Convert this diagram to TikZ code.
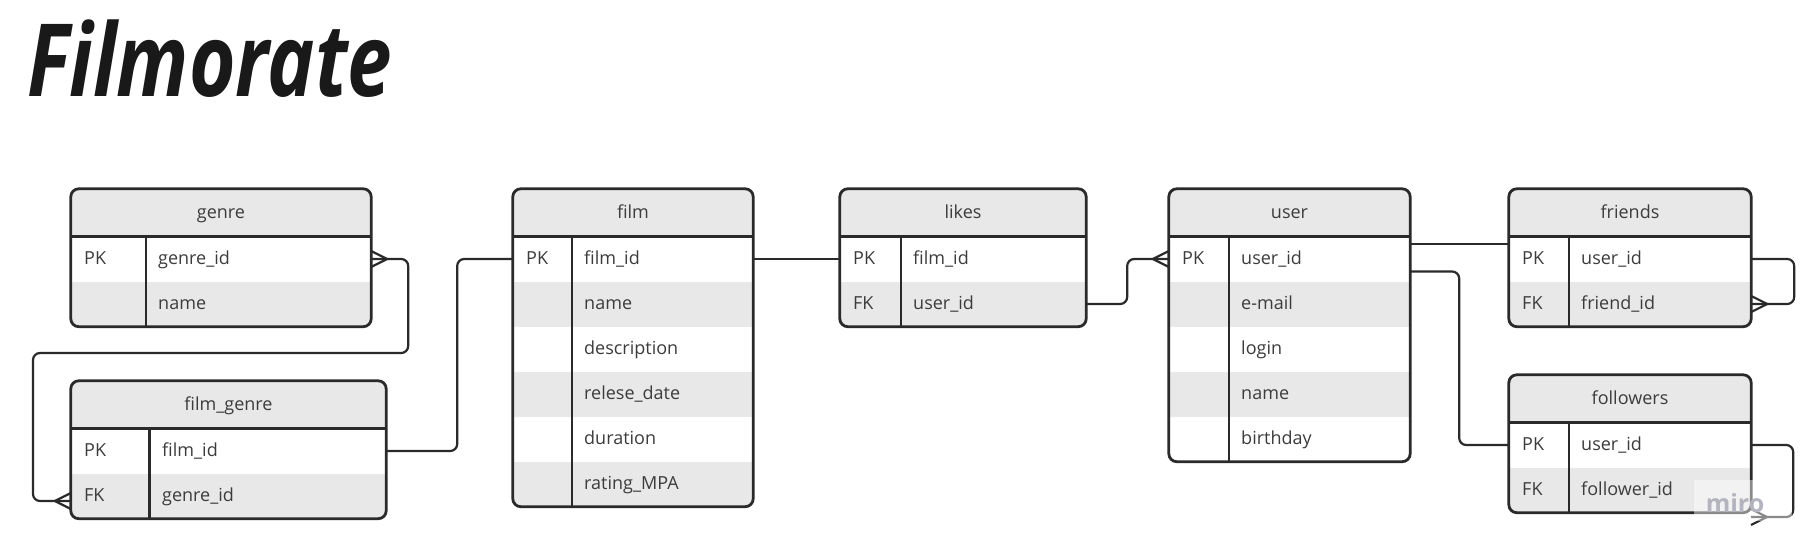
\documentclass[tikz,border=0pt]{standalone}
\usepackage{fontspec}
\setmainfont{Open Sans}
\definecolor{gris}{HTML}{E8E8E8}
\definecolor{tinta}{HTML}{2A2A2A}
\definecolor{letra}{HTML}{3C3C3C}
\definecolor{marca}{HTML}{B4B4C0}
\tikzset{
  tabla/.style={draw=tinta, line width=2.8pt, rounded corners=8pt},
  raya/.style={draw=tinta, line width=2.8pt},
  enlace/.style={draw=tinta, line width=2.2pt, rounded corners=7pt},
  pata/.style={draw=tinta, line width=2.2pt},
  txt/.style={inner sep=0pt, text=letra, text height=14pt, text depth=3pt,
    font=\fontsize{18}{22}\selectfont},
  cabecera/.style={txt, fill=gris, minimum height=47.5pt},
  fila/.style={fill=#1, inner sep=0pt, minimum height=45pt},
  campo/.style={txt, anchor=west}
}
\begin{document}
\begin{tikzpicture}[x=1pt, y=-1pt]
    \useasboundingbox (0,0) rectangle (1806,553);

    % Titulo
    \node[anchor=base west, inner sep=0pt, text=black!90,
      font=\fontsize{101}{110}\selectfont\bfseries\itshape] (titulo) at (27,97)
      {\scalebox{0.79}[1]{Filmorate}};

    % genre
    \begin{scope}
      \clip[rounded corners=8pt] (71,189) rectangle (371,326.5);
      \node[cabecera, minimum width=300pt] (genre) at (221,212.75) {genre};
      \foreach \k/\f/\c [count=\i] in {PK/genre\_id/white, /name/gris} {
        \node[fila=\c, minimum width=300pt] (genre-\i) at (221,214+45*\i) {};
        \node[campo] at (84,214+45*\i) {\k};
        \node[campo] at (158,214+45*\i) {\f};
      }
    \end{scope}
    \draw[tabla] (genre.north west) rectangle (genre-2.south east);
    \draw[raya] (genre.south west) -- (genre.south east);
    \draw[raya] (146,236.5) -- (146,326.5);

    % film_genre
    \begin{scope}
      \clip[rounded corners=8pt] (71,381) rectangle (386,518.5);
      \node[cabecera, minimum width=315pt] (filmgenre) at (228.5,404.75) {film\_genre};
      \foreach \k/\f/\c [count=\i] in {PK/film\_id/white, FK/genre\_id/gris} {
        \node[fila=\c, minimum width=315pt] (filmgenre-\i) at (228.5,406+45*\i) {};
        \node[campo] at (84,406+45*\i) {\k};
        \node[campo] at (162,406+45*\i) {\f};
      }
    \end{scope}
    \draw[tabla] (filmgenre.north west) rectangle (filmgenre-2.south east);
    \draw[raya] (filmgenre.south west) -- (filmgenre.south east);
    \draw[raya] (149.5,428.5) -- (149.5,518.5);

    % film
    \begin{scope}
      \clip[rounded corners=8pt] (513,189) rectangle (753,506.5);
      \node[cabecera, minimum width=240pt] (film) at (633,212.75) {film};
      \foreach \k/\f/\c [count=\i] in {PK/film\_id/white, /name/gris,
          /description/white, /relese\_date/gris, /duration/white,
          /rating\_MPA/gris} {
        \node[fila=\c, minimum width=240pt] (film-\i) at (633,214+45*\i) {};
        \node[campo] at (526,214+45*\i) {\k};
        \node[campo] at (584,214+45*\i) {\f};
      }
    \end{scope}
    \draw[tabla] (film.north west) rectangle (film-6.south east);
    \draw[raya] (film.south west) -- (film.south east);
    \draw[raya] (572,236.5) -- (572,506.5);

    % likes
    \begin{scope}
      \clip[rounded corners=8pt] (840,189) rectangle (1086,326.5);
      \node[cabecera, minimum width=246pt] (likes) at (963,212.75) {likes};
      \foreach \k/\f/\c [count=\i] in {PK/film\_id/white, FK/user\_id/gris} {
        \node[fila=\c, minimum width=246pt] (likes-\i) at (963,214+45*\i) {};
        \node[campo] at (853,214+45*\i) {\k};
        \node[campo] at (913,214+45*\i) {\f};
      }
    \end{scope}
    \draw[tabla] (likes.north west) rectangle (likes-2.south east);
    \draw[raya] (likes.south west) -- (likes.south east);
    \draw[raya] (901,236.5) -- (901,326.5);

    % user
    \begin{scope}
      \clip[rounded corners=8pt] (1169,189) rectangle (1410,461.5);
      \node[cabecera, minimum width=241pt] (user) at (1289.5,212.75) {user};
      \foreach \k/\f/\c [count=\i] in {PK/user\_id/white, /e-mail/gris,
          /login/white, /name/gris, /birthday/white} {
        \node[fila=\c, minimum width=241pt] (user-\i) at (1289.5,214+45*\i) {};
        \node[campo] at (1182,214+45*\i) {\k};
        \node[campo] at (1241,214+45*\i) {\f};
      }
    \end{scope}
    \draw[tabla] (user.north west) rectangle (user-5.south east);
    \draw[raya] (user.south west) -- (user.south east);
    \draw[raya] (1229,236.5) -- (1229,461.5);

    % friends
    \begin{scope}
      \clip[rounded corners=8pt] (1509,189) rectangle (1751,326.5);
      \node[cabecera, minimum width=242pt] (friends) at (1630,212.75) {friends};
      \foreach \k/\f/\c [count=\i] in {PK/user\_id/white, FK/friend\_id/gris} {
        \node[fila=\c, minimum width=242pt] (friends-\i) at (1630,214+45*\i) {};
        \node[campo] at (1522,214+45*\i) {\k};
        \node[campo] at (1581,214+45*\i) {\f};
      }
    \end{scope}
    \draw[tabla] (friends.north west) rectangle (friends-2.south east);
    \draw[raya] (friends.south west) -- (friends.south east);
    \draw[raya] (1569,236.5) -- (1569,326.5);

    % followers
    \begin{scope}
      \clip[rounded corners=8pt] (1509,375) rectangle (1751,512.5);
      \node[cabecera, minimum width=242pt] (followers) at (1630,398.75) {followers};
      \foreach \k/\f/\c [count=\i] in {PK/user\_id/white, FK/follower\_id/gris} {
        \node[fila=\c, minimum width=242pt] (followers-\i) at (1630,400+45*\i) {};
        \node[campo] at (1522,400+45*\i) {\k};
        \node[campo] at (1581,400+45*\i) {\f};
      }
    \end{scope}
    \draw[tabla] (followers.north west) rectangle (followers-2.south east);
    \draw[raya] (followers.south west) -- (followers.south east);
    \draw[raya] (1569,422.5) -- (1569,512.5);

    % Conexiones
    \coordinate (genre-fin) at ([yshift=-5pt]filmgenre-2.west);
    \coordinate (followers-fin) at (1751,517);

    \draw[enlace] (genre-1.east) -- ++(37,0) |- (33,353) |- (genre-fin);
    \draw[pata] (genre-1.east) ++(16,0) -- ++(-16,-8) ++(16,8) -- ++(-16,8);
    \draw[pata] (genre-fin) ++(-16,0) -- ++(16,-8) ++(-16,8) -- ++(16,8);

    \draw[enlace] (filmgenre-1.east) -- ++(71,0) |- (film-1.west);
    \draw[enlace] (film-1.east) -- (likes-1.west);

    \draw[enlace] (likes-2.east) -- ++(41,0) |- (user-1.west);
    \draw[pata] (user-1.west) ++(-16,0) -- ++(16,-8) ++(-16,8) -- ++(16,8);

    \draw[enlace] ([yshift=15pt]user-1.east) -- ([yshift=15pt]friends-1.west);
    \draw[enlace] ([yshift=-12.5pt]user-1.east) -- ++(49,0) |- (followers-1.west);

    \draw[enlace] (friends-1.east) -- ++(43,0) |- (friends-2.east);
    \draw[pata] (friends-2.east) ++(16,0) -- ++(-16,-8) ++(16,8) -- ++(-16,8);

    \draw[enlace] (followers-1.east) -- ++(42,0) |- (followers-fin);
    \draw[pata] (followers-fin) ++(16,0) -- ++(-16,-8) ++(16,8) -- ++(-16,8);

    % Marca
    \fill[white, opacity=0.45] (1694,480) rectangle (1792,521);
    \node[inner sep=0pt, text=marca, font=\fontsize{25}{28}\selectfont\bfseries] (miro) at (1735,503) {miro};

\end{tikzpicture}
\end{document}
